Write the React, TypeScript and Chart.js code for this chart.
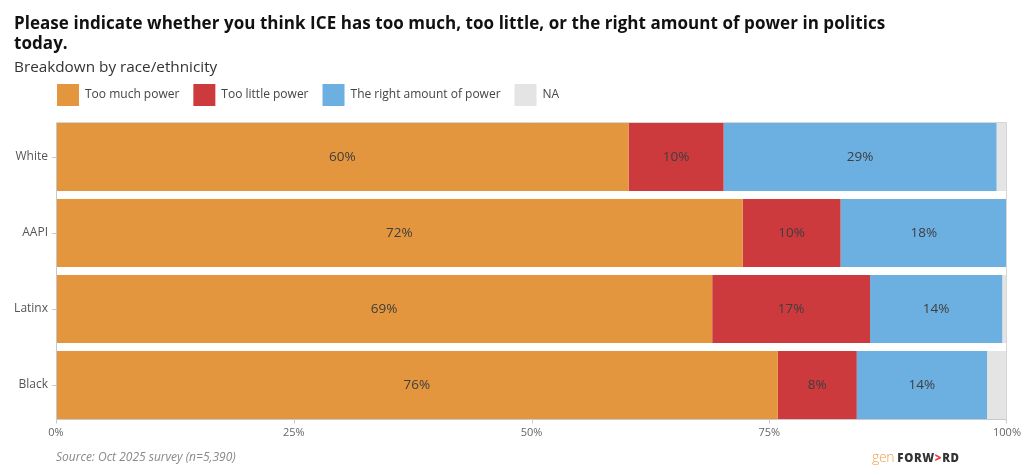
import React, { useEffect, useRef } from "react";
import { Chart, registerables } from "chart.js";

Chart.register(...registerables);

const categories = ["White", "AAPI", "Latinx", "Black"];
const tooMuch = [60.2, 72.2, 69.0, 75.9];
const tooLittle = [10.0, 10.3, 16.6, 8.3];
const rightAmount = [28.7, 17.5, 13.9, 13.7];
const naValues = [1.1, 0, 0.5, 2.1];
const seriesNames = ["Too much power", "Too little power", "The right amount of power", "NA"];
const seriesColors = ["#E3963E", "#CC3A3D", "#6CB0E2", "#E4E4E4"];
const xTicks = [0, 25, 50, 75, 100];

const FONT = "'Open Sans', 'Noto Sans', sans-serif";

const legendShiftPlugin = {
  id: "legendShift",
  afterLayout(chart: any) {
    const lg = chart.legend;
    if (lg) {
      const shift = 43 - lg.left;
      lg.left += shift;
      lg.right += shift;
    }
  },
};

const framePlugin = {
  id: "frame",
  afterDatasetsDraw(chart: any) {
    const { ctx, chartArea } = chart;
    const left = Math.round(chartArea.left) + 0.5;
    const right = Math.round(chartArea.right) - 0.5;
    const top = Math.round(chartArea.top) + 4 - 0.5;
    const bottom = Math.round(chartArea.bottom) - 4 + 0.5;
    ctx.save();
    ctx.lineWidth = 1;
    ctx.strokeStyle = "#D6D6D6";
    ctx.beginPath();
    ctx.moveTo(left, top);
    ctx.lineTo(right, top);
    ctx.lineTo(right, bottom);
    ctx.stroke();
    ctx.strokeStyle = "#C8C8C8";
    ctx.beginPath();
    ctx.moveTo(left, top);
    ctx.lineTo(left, bottom);
    ctx.lineTo(right, bottom);
    ctx.stroke();
    const xs = chart.scales.x;
    xTicks.forEach((v) => {
      const px = Math.round(xs.getPixelForValue(v)) + 0.5;
      ctx.beginPath();
      ctx.moveTo(Math.min(px, right), bottom);
      ctx.lineTo(Math.min(px, right), bottom + 4);
      ctx.stroke();
    });
    ctx.restore();
  },
};

const valueLabelPlugin = {
  id: "valueLabels",
  afterDatasetsDraw(chart: any) {
    const { ctx } = chart;
    ctx.save();
    ctx.font = `13.5px ${FONT}`;
    ctx.fillStyle = "#3E3E3E";
    ctx.textAlign = "center";
    ctx.textBaseline = "middle";
    for (let d = 0; d < 3; d++) {
      const meta = chart.getDatasetMeta(d);
      const data = chart.data.datasets[d].data as number[];
      meta.data.forEach((bar: any, i: number) => {
        const v = data[i];
        if (!v) return;
        const cx = (bar.x + bar.base) / 2;
        ctx.fillText(`${Math.round(v)}%`, cx, bar.y);
      });
    }
    ctx.restore();
  },
};

export default function App() {
  const canvasRef = useRef<HTMLCanvasElement | null>(null);

  useEffect(() => {
    document.body.style.margin = "0";
    const canvas = canvasRef.current;
    if (!canvas) return;
    const series = [tooMuch, tooLittle, rightAmount, naValues];
    const chart = new Chart(canvas, {
      type: "bar",
      data: {
        labels: categories,
        datasets: series.map((values, i) => ({
          label: seriesNames[i],
          data: values,
          backgroundColor: seriesColors[i],
          borderWidth: 0,
          barPercentage: 68 / 76,
          categoryPercentage: 1,
        })),
      },
      options: {
        indexAxis: "y",
        animation: false,
        responsive: true,
        maintainAspectRatio: false,
        layout: { padding: { top: 70, left: 14, right: 16, bottom: 29 } },
        plugins: {
          tooltip: { enabled: false },
          title: { display: false },
          legend: {
            display: true,
            position: "top",
            align: "start",
            labels: {
              boxWidth: 22,
              boxHeight: 22,
              padding: 14,
              color: "#444",
              font: { family: FONT, size: 12 },
            },
          },
        },
        scales: {
          x: {
            type: "linear",
            stacked: true,
            min: 0,
            max: 100,
            afterBuildTicks: (s: any) => {
              s.ticks = xTicks.map((v) => ({ value: v }));
            },
            afterFit: (s: any) => {
              s.height = 24;
            },
            grid: { display: false, drawTicks: false },
            border: { display: false },
            ticks: {
              padding: 3,
              color: "#666",
              font: { family: FONT, size: 11 },
              callback: (v: any) => `${v}%`,
              maxRotation: 0,
            },
          },
          x2: {
            type: "linear",
            position: "top",
            display: true,
            min: 0,
            max: 100,
            grid: { display: false, drawTicks: false },
            border: { display: false },
            ticks: { display: false },
            afterFit: (s: any) => {
              s.height = 3;
            },
          },
          y: {
            type: "category",
            stacked: true,
            offset: true,
            afterFit: (s: any) => {
              s.width = 42;
            },
            grid: {
              display: true,
              offset: false,
              drawOnChartArea: false,
              drawTicks: true,
              tickLength: 4,
              color: "#C8C8C8",
            },
            border: { display: false },
            ticks: {
              padding: 4,
              color: "#555",
              font: { family: FONT, size: 12 },
            },
          },
        },
      },
      plugins: [legendShiftPlugin, framePlugin, valueLabelPlugin],
    });
    return () => chart.destroy();
  }, []);

  return (
    <div
      style={{
        position: "absolute",
        left: 0,
        top: 0,
        width: 1024,
        height: 476,
        background: "#fff",
        fontFamily: FONT,
      }}
    >
      <canvas ref={canvasRef} style={{ position: "absolute", left: 0, top: 0, width: 1024, height: 476 }} />
      <div
        style={{
          position: "absolute",
          left: 14,
          top: 13,
          width: 980,
          fontSize: 17,
          fontWeight: 700,
          lineHeight: "20px",
          color: "#111",
          letterSpacing: "0.05px",
          whiteSpace: "nowrap",
        }}
      >
        Please indicate whether you think ICE has too much, too little, or the right amount of power in politics
        <br />
        today.
      </div>
      <div
        style={{
          position: "absolute",
          left: 14,
          top: 56,
          fontSize: 15.3,
          lineHeight: "20px",
          color: "#333",
        }}
      >
        Breakdown by race/ethnicity
      </div>
      <div
        style={{
          position: "absolute",
          left: 56,
          top: 448,
          fontSize: 12,
          lineHeight: "18px",
          fontStyle: "italic",
          color: "#888",
        }}
      >
        Source: Oct 2025 survey (n=5,390)
      </div>
      <div
        style={{
          position: "absolute",
          left: 872,
          top: 447,
          fontSize: 14,
          lineHeight: "20px",
          whiteSpace: "nowrap",
        }}
      >
        <span style={{ color: "#F0A04B", fontWeight: 300, letterSpacing: "-0.3px" }}>gen</span>
        <span style={{ color: "#333", fontWeight: 800, fontSize: 11.5, letterSpacing: "0.6px", marginLeft: 3 }}>
          FORW<span style={{ color: "#E0393E" }}>&gt;</span>RD
        </span>
      </div>
    </div>
  );
}
